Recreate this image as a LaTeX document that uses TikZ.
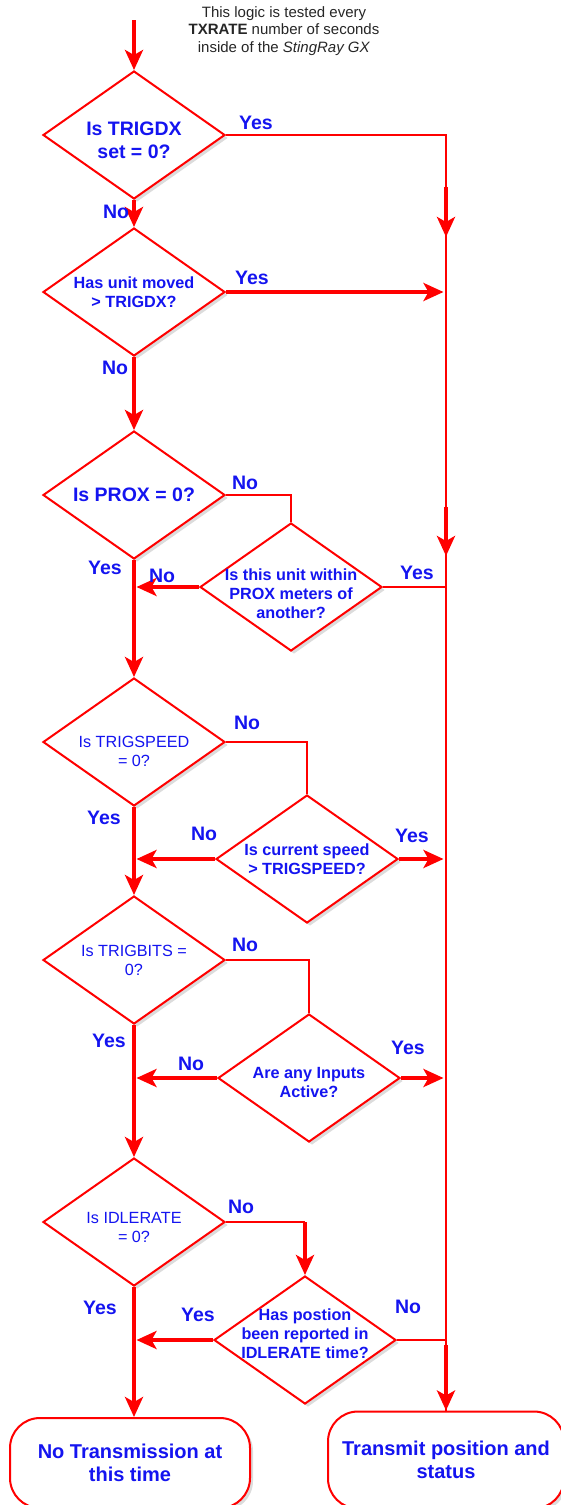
\documentclass[tikz,border=0pt]{standalone}
\usepackage{fontspec}
\setmainfont{Liberation Sans}
\usetikzlibrary{positioning, arrows.meta, shapes.geometric, shadows}
\definecolor{flowRed}{HTML}{FF0000}
\definecolor{askBlue}{HTML}{1414F0}
\definecolor{noteGray}{HTML}{262626}

\begin{document}
\begin{tikzpicture}[
    x=1pt, y=-1pt,
    % Node styles
    decision/.style={
        diamond,
        draw=flowRed,
        fill=white,
        line width=2pt,
        minimum width=182pt,
        minimum height=128pt,
        inner sep=0pt,
        drop shadow={shadow xshift=3pt, shadow yshift=-3pt, opacity=0.28}
    },
    askbig/.style={
        text=askBlue,
        font=\fontsize{19.5}{23}\selectfont\bfseries,
        align=center
    },
    askbold/.style={
        text=askBlue,
        font=\fontsize{16.2}{19}\selectfont\bfseries,
        align=center
    },
    askplain/.style={
        text=askBlue,
        font=\fontsize{16.2}{19}\selectfont,
        align=center
    },
    endbox/.style={
        rectangle,
        rounded corners=30pt,
        draw=flowRed,
        fill=white,
        line width=2pt,
        text=askBlue,
        font=\fontsize{20}{23}\selectfont\bfseries,
        align=center,
        drop shadow={shadow xshift=3pt, shadow yshift=-3pt, opacity=0.28}
    },
    answer/.style={
        text=askBlue,
        font=\fontsize{19.5}{23}\selectfont\bfseries,
        inner sep=0pt
    },
    note/.style={
        text=noteGray,
        font=\fontsize{15}{17.5}\selectfont,
        align=center
    },
    arrow/.style={
        ->,
        >={Stealth[length=20pt, width=18pt, inset=5pt]},
        line width=4.5pt,
        draw=flowRed
    },
    into/.style={
        arrow,
        shorten >=2.5pt
    },
    link/.style={
        line width=2pt,
        draw=flowRed
    }
]
    \useasboundingbox (0,0) rectangle (561,1505);
    \clip (0,0) rectangle (561,1505);

    % ==== NOTE ====
    \node[note] (rate) at (284,31) {This logic is tested every\\\textbf{TXRATE} number of seconds\\inside of the \textit{StingRay GX}};
    \coordinate (start) at (134,20);

    % ==== DECISIONS (LEFT COLUMN) ====
    \node[decision, label={[askbig, yshift=-5pt]center:{Is TRIGDX\\set = 0?}}] (trigdx) at (134,135) {};
    \node[decision, label={[askbold]center:{Has unit moved\\> TRIGDX?}}] (moved) at (134,292) {};
    \node[decision, label={[askbig]center:{Is PROX = 0?}}] (prox) at (134,495) {};
    \node[decision, label={[askplain, yshift=-9pt]center:{Is TRIGSPEED\\= 0?}}] (speedzero) at (134,742) {};
    \node[decision, label={[askplain]center:{Is TRIGBITS =\\0?}}] (bitszero) at (134,960) {};
    \node[decision, label={[askplain, yshift=-5pt]center:{Is IDLERATE\\= 0?}}] (idlezero) at (134,1222) {};

    % ==== DECISIONS (SECOND COLUMN) ====
    \node[decision, label={[askbold, yshift=-7pt]center:{Is this unit within\\PROX meters of\\another?}}] (near) at (291,587) {};
    \node[decision, label={[askbold]center:{Is current speed\\> TRIGSPEED?}}] (speed) at (307,859) {};
    \node[decision, label={[askbold, yshift=-4pt]center:{Are any Inputs\\Active?}}] (inputs) at (309,1078) {};
    \node[decision, label={[askbold, yshift=6pt]center:{Has postion\\been reported in\\IDLERATE time?}}] (idlerep) at (305,1340) {};

    % ==== OUTCOMES ====
    \node[endbox, minimum width=240pt, minimum height=90pt] (notx) at (130,1463) {No Transmission at\\this time};
    \node[endbox, minimum width=236pt, minimum height=97pt] (tx) at (446,1460) {Transmit position and\\status};

    % Main trunk (No path)
    \draw[arrow] (start) -- (trigdx.north);
    \draw[arrow] (trigdx.south) -- (moved.north);
    \draw[arrow] (moved.south) -- (prox.north);
    \draw[arrow] (prox.south) -- (speedzero.north);
    \draw[arrow] (speedzero.south) -- (bitszero.north);
    \draw[arrow] (bitszero.south) -- (idlezero.north);
    \draw[arrow] (idlezero.south) -- (idlezero.south |- notx.north);

    % Transmit trunk on the right
    \draw[link] (trigdx.east) -| (tx.north);
    \coordinate (trunkA) at (446,187);
    \coordinate (trunkB) at (446,507);
    \coordinate (trunkC) at (446,1345);
    \draw[arrow] (trunkA) -- ++(0,50);
    \draw[arrow] (trunkB) -- ++(0,49);
    \draw[arrow] (trunkC) -- (tx.north);
    \draw[into] (moved.east) -- (moved.east -| tx.north);

    % Side checks
    \draw[link] (prox.east) -| (near.north);
    \draw[into] (near.west) -- (near.west -| prox.south);
    \draw[link] (near.east) -- (near.east -| tx.north);

    \draw[link] (speedzero.east) -| (speed.north);
    \draw[into] (speed.west) -- (speed.west -| speedzero.south);
    \draw[into] (speed.east) -- (speed.east -| tx.north);

    \draw[link] (bitszero.east) -| (inputs.north);
    \draw[into] (inputs.west) -- (inputs.west -| bitszero.south);
    \draw[into] (inputs.east) -- (inputs.east -| tx.north);

    \draw[link] (idlezero.east) -- (idlezero.east -| idlerep.north);
    \draw[arrow] (idlezero.east -| idlerep.north) -- (idlerep.north);
    \draw[into] (idlerep.west) -- (idlerep.west -| idlezero.south);
    \draw[link] (idlerep.east) -- (idlerep.east -| tx.north);

    % ==== ANSWERS ====
    \node[answer] (trigdxYes) at (256,123) {Yes};
    \node[answer] (trigdxNo) at (116,212) {No};
    \node[answer] (movedYes) at (252,278) {Yes};
    \node[answer] (movedNo) at (115,368) {No};
    \node[answer] (proxNo) at (245,483) {No};
    \node[answer] (proxYes) at (105,568) {Yes};
    \node[answer] (nearNo) at (162,576) {No};
    \node[answer] (nearYes) at (417,573) {Yes};
    \node[answer] (speedzeroNo) at (247,723) {No};
    \node[answer] (speedzeroYes) at (104,818) {Yes};
    \node[answer] (speedNo) at (204,834) {No};
    \node[answer] (speedYes) at (412,836) {Yes};
    \node[answer] (bitszeroNo) at (245,945) {No};
    \node[answer] (bitszeroYes) at (109,1041) {Yes};
    \node[answer] (inputsNo) at (191,1064) {No};
    \node[answer] (inputsYes) at (408,1048) {Yes};
    \node[answer] (idlezeroNo) at (241,1207) {No};
    \node[answer] (idlezeroYes) at (100,1308) {Yes};
    \node[answer] (idlerepYes) at (198,1315) {Yes};
    \node[answer] (idlerepNo) at (408,1307) {No};

\end{tikzpicture}
\end{document}
